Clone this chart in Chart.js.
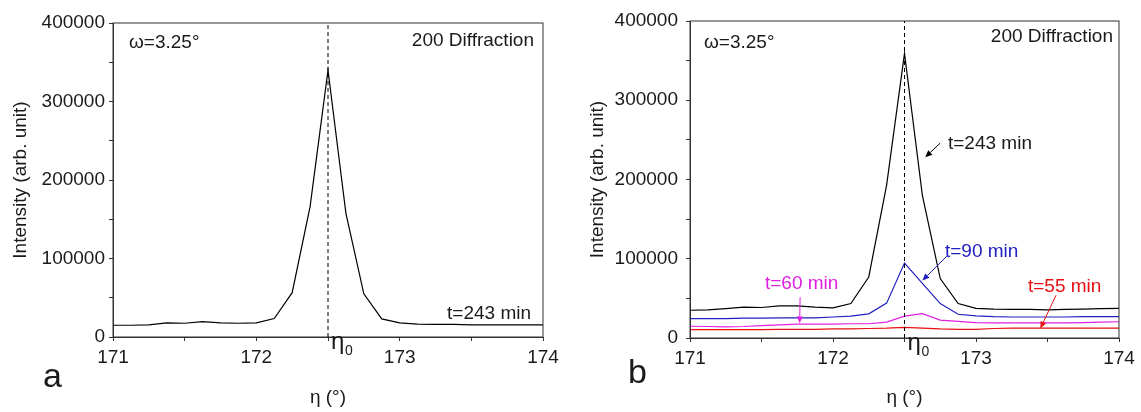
<!DOCTYPE html>
<html>
<head>
<meta charset="utf-8">
<script src="https://cdn.jsdelivr.net/npm/chart.js@4.4.1/dist/chart.umd.min.js"></script>
<style>
  html, body { margin: 0; padding: 0; background: #ffffff; }
  #wrap { position: relative; width: 1141px; height: 412px; overflow: hidden; }
  #boxA { position: absolute; left: 0; top: 0; width: 570px; height: 412px; }
  #boxB { position: absolute; left: 570px; top: 0; width: 571px; height: 412px; }
</style>
</head>
<body>
<div id="wrap">
  <div id="boxA"><canvas id="chartA" width="570" height="412"></canvas></div>
  <div id="boxB"><canvas id="chartB" width="571" height="412"></canvas></div>
</div>
<script>
// Posiciones eta (grados)
const etaValues = [171, 171.125, 171.25, 171.375, 171.5, 171.625, 171.75, 171.875,
                   172, 172.125, 172.25, 172.375, 172.5, 172.625, 172.75, 172.875,
                   173, 173.125, 173.25, 173.375, 173.5, 173.625, 173.75, 173.875, 174];

// Panel a: t=243 min
const panelA243 = [15000, 15000, 15500, 18000, 17500, 19500, 18000, 17500,
                   18000, 23500, 56500, 166000, 340000, 157500, 55000, 23000,
                   18000, 16500, 16000, 16000, 15500, 15500, 15500, 15500, 15500];

// Panel b: cuatro tiempos
const panelB243 = [35000, 35500, 37000, 39000, 38500, 40500, 40500, 39000,
                   38000, 43500, 77000, 193000, 359000, 180000, 75000, 43500,
                   37500, 36500, 36000, 36000, 35500, 36000, 36500, 37000, 37500];
const panelB90  = [24500, 24500, 24500, 25000, 25000, 25500, 25500, 25500,
                   26500, 27500, 30500, 44000, 94500, 69000, 43500, 30000,
                   28000, 27000, 26500, 26500, 26500, 26500, 27000, 27000, 27000];
const panelB60  = [14800, 14500, 14000, 14500, 15500, 16500, 17500, 17500,
                   17500, 18000, 18000, 20000, 27500, 30800, 22500, 21000,
                   19500, 19000, 19000, 19000, 19000, 19000, 19500, 20000, 20500];
const panelB55  = [10500, 10500, 10500, 10500, 10500, 10800, 11000, 11000,
                   11500, 11500, 12000, 12500, 13500, 12500, 11500, 11000,
                   11000, 12000, 12500, 12500, 12500, 12500, 12500, 12500, 12500];

// Ejes
const xMin = 171, xMax = 174, xStep = 0.5;
const yMin = 0, yMax = 400000, yStep = 50000;
const peakEta = 172.5;

const curveColors = {
    t243: '#000000',
    t90: '#2020c0',
    t60: '#e020e0',
    t55: '#e81010',
    axis: '#333333',
    text: '#1a1a1a'
};

const fontFamily = 'Arial, "Liberation Sans", sans-serif';
Chart.defaults.font.family = fontFamily;
Chart.defaults.color = curveColors.text;

function toPoints(values) {
    return values.map((v, i) => ({ x: etaValues[i], y: v }));
}

function drawArrow(ctx, x1, y1, x2, y2, color) {
    const ang = Math.atan2(y2 - y1, x2 - x1);
    const head = 7, half = 3;
    const bx = x2 - head * Math.cos(ang), by = y2 - head * Math.sin(ang);
    ctx.strokeStyle = color;
    ctx.fillStyle = color;
    ctx.lineWidth = 1;
    ctx.beginPath();
    ctx.moveTo(x1, y1);
    ctx.lineTo(bx, by);
    ctx.stroke();
    ctx.beginPath();
    ctx.moveTo(x2, y2);
    ctx.lineTo(bx + half * Math.sin(ang), by - half * Math.cos(ang));
    ctx.lineTo(bx - half * Math.sin(ang), by + half * Math.cos(ang));
    ctx.closePath();
    ctx.fill();
}

// Marco, linea discontinua, textos y flechas
const panelDecor = {
    id: 'panelDecor',
    afterDraw(chart, args, opts) {
        const ctx = chart.ctx;
        const area = chart.chartArea;
        const xs = chart.scales.x, ys = chart.scales.y;
        ctx.save();
        // marco
        ctx.strokeStyle = curveColors.axis;
        ctx.lineWidth = 1;
        ctx.strokeRect(area.left, area.top, area.right - area.left, area.bottom - area.top);
        // eta0
        const px = xs.getPixelForValue(peakEta);
        ctx.setLineDash([4, 3]);
        ctx.strokeStyle = '#000000';
        ctx.beginPath();
        ctx.moveTo(px, area.bottom);
        ctx.lineTo(px, area.top);
        ctx.stroke();
        ctx.setLineDash([]);
        ctx.fillStyle = curveColors.text;
        ctx.textBaseline = 'alphabetic';
        ctx.textAlign = 'left';
        ctx.font = '24px ' + fontFamily;
        ctx.fillText('η', px + 3, area.bottom + 12);
        ctx.font = '14px ' + fontFamily;
        ctx.fillText('0', px + 17, area.bottom + 18);
        // textos
        (opts.texts || []).forEach(t => {
            ctx.font = (t.size || 19) + 'px ' + fontFamily;
            ctx.fillStyle = t.color || curveColors.text;
            ctx.textAlign = t.align || 'left';
            ctx.fillText(t.text, t.x, t.y);
        });
        // flechas
        (opts.arrows || []).forEach(a => {
            drawArrow(ctx,
                xs.getPixelForValue(a.from[0]), ys.getPixelForValue(a.from[1]),
                xs.getPixelForValue(a.to[0]), ys.getPixelForValue(a.to[1]),
                a.color);
        });
        ctx.restore();
    }
};

function buildScales(yWidth, xHeight, yTickPad, yTitlePad) {
    return {
        x: {
            type: 'linear',
            min: xMin,
            max: xMax,
            afterFit: function(scale) { scale.height = xHeight; },
            ticks: {
                stepSize: xStep,
                padding: 5,
                maxRotation: 0,
                font: { size: 19 },
                color: curveColors.text,
                callback: function(value) {
                    return Number.isInteger(value) ? String(value) : '';
                }
            },
            grid: { drawOnChartArea: false, drawTicks: true, tickLength: 4, color: curveColors.axis },
            border: { display: true, color: curveColors.axis },
            title: {
                display: true,
                text: 'η (°)',
                font: { size: 19 },
                color: curveColors.text,
                padding: { top: 0, bottom: 3 }
            }
        },
        y: {
            type: 'linear',
            min: yMin,
            max: yMax,
            afterFit: function(scale) { scale.width = yWidth; },
            ticks: {
                stepSize: yStep,
                padding: yTickPad,
                font: { size: 19 },
                color: curveColors.text,
                callback: function(value) {
                    return value % 100000 === 0 ? String(value) : '';
                }
            },
            grid: { drawOnChartArea: false, drawTicks: true, tickLength: 4, color: curveColors.axis },
            border: { display: true, color: curveColors.axis },
            title: {
                display: true,
                text: 'Intensity (arb. unit)',
                font: { size: 19 },
                color: curveColors.text,
                padding: { top: yTitlePad, bottom: 0 }
            }
        }
    };
}

function lineSet(label, values, color) {
    return {
        label: label,
        data: toPoints(values),
        borderColor: color,
        backgroundColor: color,
        borderWidth: 1.2,
        pointRadius: 0,
        tension: 0,
        fill: false
    };
}

let chartA, chartB;

// Panel a
function createPanelA() {
    const ctx = document.getElementById('chartA').getContext('2d');
    chartA = new Chart(ctx, {
        type: 'line',
        data: {
            datasets: [lineSet('t=243 min', panelA243, curveColors.t243)]
        },
        options: {
            responsive: false,
            animation: false,
            layout: { padding: { left: 0, right: 27, top: 23, bottom: 0 } },
            plugins: {
                legend: { display: false },
                tooltip: { enabled: false },
                panelDecor: {
                    texts: [
                        { text: 'ω=3.25°', x: 129, y: 48 },
                        { text: '200 Diffraction', x: 534, y: 46, align: 'right' },
                        { text: 't=243 min', x: 531, y: 319, align: 'right' },
                        { text: 'a', x: 43, y: 387, size: 34 }
                    ]
                }
            },
            scales: buildScales(113, 75, 4, 9)
        },
        plugins: [panelDecor]
    });
}

// Panel b
function createPanelB() {
    const ctx = document.getElementById('chartB').getContext('2d');
    chartB = new Chart(ctx, {
        type: 'line',
        data: {
            datasets: [
                lineSet('t=55 min', panelB55, curveColors.t55),
                lineSet('t=60 min', panelB60, curveColors.t60),
                lineSet('t=90 min', panelB90, curveColors.t90),
                lineSet('t=243 min', panelB243, curveColors.t243)
            ]
        },
        options: {
            responsive: false,
            animation: false,
            layout: { padding: { left: 0, right: 22, top: 21, bottom: 0 } },
            plugins: {
                legend: { display: false },
                tooltip: { enabled: false },
                panelDecor: {
                    texts: [
                        { text: 'ω=3.25°', x: 134, y: 48 },
                        { text: '200 Diffraction', x: 543, y: 42, align: 'right' },
                        { text: 't=243 min', x: 378, y: 149 },
                        { text: 't=90 min', x: 375, y: 257, color: curveColors.t90 },
                        { text: 't=60 min', x: 195, y: 289, color: curveColors.t60 },
                        { text: 't=55 min', x: 458, y: 292, color: curveColors.t55 },
                        { text: 'b', x: 58, y: 383, size: 34 }
                    ],
                    arrows: [
                        { from: [172.75, 246000], to: [172.645, 228000], color: curveColors.t243 },
                        { from: [172.80, 104000], to: [172.625, 72500], color: curveColors.t90 },
                        { from: [171.77, 51500], to: [171.767, 18500], color: curveColors.t60 },
                        { from: [173.56, 54000], to: [173.45, 12000], color: curveColors.t55 }
                    ]
                }
            },
            scales: buildScales(120, 74, 8, 16)
        },
        plugins: [panelDecor]
    });
}

createPanelA();
createPanelB();
</script>
</body>
</html>
